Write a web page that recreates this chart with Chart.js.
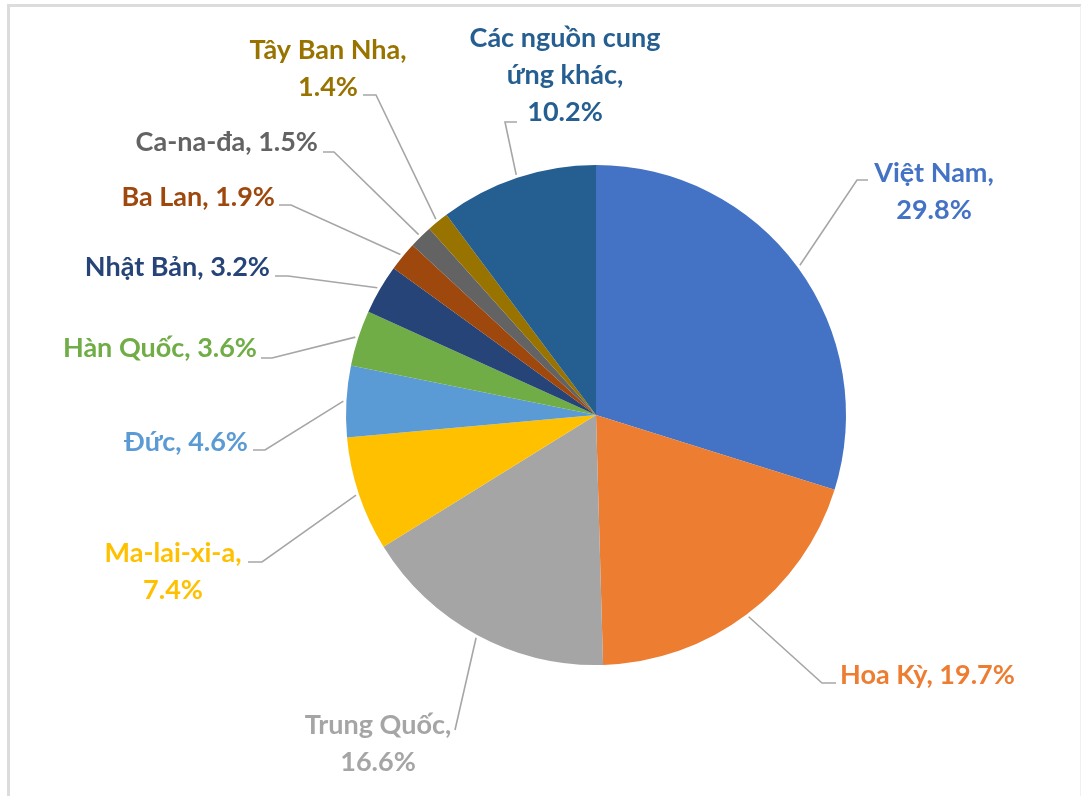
<!DOCTYPE html>
<html lang="vi">

<head>
    <meta charset="utf-8">
    <title>Nguồn cung</title>
    <script src="https://cdn.jsdelivr.net/npm/chart.js"></script>
    <style>
        body { margin: 0; background: #fff; }
        #frame {
            position: absolute; left: 7px; top: 4px; width: 1070px; height: 800px;
            border-top: 3px solid #dcdcdc; border-left: 3px solid #dcdcdc; border-right: 2px solid #f0f0f0;
        }
        #pie { position: absolute; left: 0; top: 0; }
    </style>
</head>

<body>
    <div id="frame"></div>
    <canvas id="pie" width="1081" height="796"></canvas>

	<script>
	// thị phần theo nguồn cung (%)
	const labels = ['Việt Nam', 'Hoa Kỳ', 'Trung Quốc', 'Ma-lai-xi-a', 'Đức', 'Hàn Quốc',
		'Nhật Bản', 'Ba Lan', 'Ca-na-đa', 'Tây Ban Nha', 'Các nguồn cung ứng khác'];
	const shares = [29.8, 19.7, 16.6, 7.4, 4.6, 3.6, 3.2, 1.9, 1.5, 1.4, 10.2];
	const colors = ['#4472C4', '#ED7D31', '#A5A5A5', '#FFC000', '#5B9BD5', '#70AD47',
		'#264478', '#9E480E', '#636363', '#997300', '#255E91'];

	// cách ngắt dòng của nhãn
	const labelLines = [
		['Việt Nam,', '29.8%'],
		['Hoa Kỳ, 19.7%'],
		['Trung Quốc,', '16.6%'],
		['Ma-lai-xi-a,', '7.4%'],
		['Đức, 4.6%'],
		['Hàn Quốc, 3.6%'],
		['Nhật Bản, 3.2%'],
		['Ba Lan, 1.9%'],
		['Ca-na-đa, 1.5%'],
		['Tây Ban Nha,', '1.4%'],
		['Các nguồn cung', 'ứng khác,', '10.2%']
	];

	// vị trí nhãn: x, y dòng đầu, căn lề, điểm gập và điểm cuối đường dẫn
	const labelPos = [
		{ x: 934, y: 173, align: 'center', elbow: [857, 180], end: [868, 180] },
		{ x: 840, y: 675, align: 'left',   elbow: [822, 683], end: [836, 683] },
		{ x: 378, y: 725, align: 'center', elbow: [455, 730], end: [455, 730] },
		{ x: 173, y: 553, align: 'center', elbow: [262, 562], end: [248, 562] },
		{ x: 248, y: 442, align: 'right',  elbow: [265, 450], end: [253, 450] },
		{ x: 257, y: 348, align: 'right',  elbow: [272, 358], end: [261, 358] },
		{ x: 270, y: 267, align: 'right',  elbow: [288, 276], end: [275, 276] },
		{ x: 275, y: 197, align: 'right',  elbow: [291, 205], end: [279, 205] },
		{ x: 318, y: 142, align: 'right',  elbow: [334, 152], end: [323, 152] },
		{ x: 328, y: 50,  align: 'center', elbow: [376, 95],  end: [363, 95] },
		{ x: 565, y: 38,  align: 'center', elbow: [505, 122], end: [517, 122] }
	];

	const outsideLabels = {
		id: 'outsideLabels',
		afterDraw(chart) {
			const c = chart.ctx;
			const arcs = chart.getDatasetMeta(0).data;
			c.save();
			arcs.forEach(function(arc, i) {
				const p = labelPos[i];
				const mid = (arc.startAngle + arc.endAngle) / 2;
				const r = arc.outerRadius + 3;
				const sx = arc.x + Math.cos(mid) * r;
				const sy = arc.y + Math.sin(mid) * r;

				c.strokeStyle = '#a6a6a6';
				c.lineWidth = 1.6;
				c.beginPath();
				c.moveTo(sx, sy);
				c.lineTo(p.elbow[0], p.elbow[1]);
				c.lineTo(p.end[0], p.end[1]);
				c.stroke();

				c.fillStyle = colors[i];
				c.font = 'bold 27px Lato';
				c.textAlign = p.align;
				c.textBaseline = 'middle';
				labelLines[i].forEach(function(t, k) {
					c.fillText(t, p.x, p.y + k * 37);
				});
			});
			c.restore();
		}
	};

	new Chart(document.getElementById('pie').getContext('2d'), {
		type: 'pie',
		data: {
			labels: labels,
			datasets: [{
				data: shares,
				backgroundColor: colors,
				borderWidth: 0
			}]
		},
		options: {
			responsive: false,
			animation: false,
			layout: { padding: { left: 346, right: 235, top: 165, bottom: 131 } },
			plugins: {
				legend: { display: false },
				tooltip: { enabled: false }
			}
		},
		plugins: [outsideLabels]
	});
	</script>
</body>

</html>
